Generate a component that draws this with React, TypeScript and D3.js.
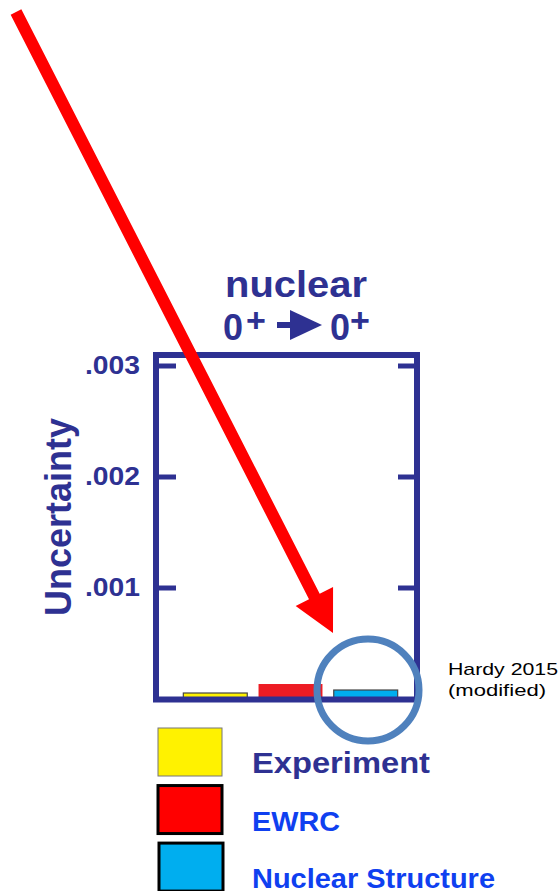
import React, { useEffect, useRef } from "react"
import * as d3 from "d3"

const categories = ["Experiment", "EWRC", "Nuclear Structure"]
const uncertainty = [0.000054, 0.000135, 0.000081]
const barColors = ["#FFF200", "#ED1C24", "#00AEEF"]
const legendColors = ["#FFF200", "#FF0000", "#00AEEF"]
const legendTextColors = ["#2E3192", "#0F40F0", "#0F40F0"]
const legendTextWidths = [178, 88, 243]
const yTicks = [0.001, 0.002, 0.003]
const yTickLabels = [".001", ".002", ".003"]

const W = 560
const H = 891
const NAVY = "#2E3192"
const FONT = "'Liberation Sans', Arial, sans-serif"

export default function App() {
  const svgRef = useRef<SVGSVGElement | null>(null)

  useEffect(() => {
    if (!svgRef.current) return
    const svg = d3.select(svgRef.current)
    svg.selectAll("*").remove()

    const frame = { left: 156, right: 417, top: 355, bottom: 699.5 }

    const x = d3.scaleBand<string>().domain(categories).range([157, 424]).paddingInner(0.15).paddingOuter(0.35)
    const y = d3.scaleLinear().domain([0, 0.003]).range([699, 366])

    // title
    svg
      .append("text")
      .attr("x", 225)
      .attr("y", 297)
      .attr("textLength", 142)
      .attr("lengthAdjust", "spacingAndGlyphs")
      .style("font-family", FONT)
      .style("font-weight", "bold")
      .style("font-size", "36px")
      .style("fill", NAVY)
      .text("nuclear")

    const line2 = svg.append("g").style("font-family", FONT).style("font-weight", "bold").style("fill", NAVY)
    line2.append("text").attr("x", 223).attr("y", 340).style("font-size", "36px").text("0")
    line2.append("text").attr("x", 246).attr("y", 332).style("font-size", "34px").text("+")
    line2.append("text").attr("x", 330).attr("y", 340).style("font-size", "36px").text("0")
    line2.append("text").attr("x", 350).attr("y", 332).style("font-size", "34px").text("+")
    line2.append("rect").attr("x", 277).attr("y", 322).attr("width", 16).attr("height", 6).attr("fill", NAVY)
    line2.append("path").attr("d", "M290,310L322,325L290,340Z").attr("fill", NAVY)

    // bars
    svg
      .append("g")
      .selectAll("rect")
      .data(categories)
      .join("rect")
      .attr("x", (d) => x(d)!)
      .attr("width", x.bandwidth())
      .attr("y", (d, i) => y(uncertainty[i]))
      .attr("height", (d, i) => y(0) - y(uncertainty[i]))
      .attr("fill", (d, i) => barColors[i])
      .attr("stroke", (d, i) => (i === 1 ? "none" : "#444"))
      .attr("stroke-width", 1.2)

    // frame
    svg
      .append("rect")
      .attr("x", frame.left)
      .attr("y", frame.top)
      .attr("width", frame.right - frame.left)
      .attr("height", frame.bottom - frame.top)
      .attr("fill", "none")
      .attr("stroke", NAVY)
      .attr("stroke-width", 6)

    // ticks
    const tickG = svg.append("g")
    tickG
      .selectAll("line.l")
      .data(yTicks)
      .join("line")
      .attr("class", "l")
      .attr("x1", frame.left)
      .attr("x2", 176)
      .attr("y1", (d) => y(d))
      .attr("y2", (d) => y(d))
      .attr("stroke", NAVY)
      .attr("stroke-width", 5)
    tickG
      .selectAll("line.r")
      .data(yTicks)
      .join("line")
      .attr("class", "r")
      .attr("x1", 398)
      .attr("x2", frame.right)
      .attr("y1", (d) => y(d))
      .attr("y2", (d) => y(d))
      .attr("stroke", NAVY)
      .attr("stroke-width", 5)
    tickG
      .selectAll("text")
      .data(yTicks)
      .join("text")
      .attr("x", 85)
      .attr("y", (d) => y(d) + 8)
      .attr("textLength", 55)
      .attr("lengthAdjust", "spacingAndGlyphs")
      .style("font-family", FONT)
      .style("font-weight", "bold")
      .style("font-size", "25px")
      .style("fill", NAVY)
      .text((d, i) => yTickLabels[i])

    // y label
    svg
      .append("text")
      .attr("transform", "translate(71,517) rotate(-90)")
      .attr("text-anchor", "middle")
      .attr("textLength", 198)
      .attr("lengthAdjust", "spacingAndGlyphs")
      .style("font-family", FONT)
      .style("font-weight", "bold")
      .style("font-size", "36px")
      .style("fill", NAVY)
      .text("Uncertainty")

    // source note
    const note = svg.append("g").style("font-family", FONT).style("font-size", "17px").style("fill", "#000")
    note
      .append("text")
      .attr("x", 448)
      .attr("y", 675)
      .attr("textLength", 110)
      .attr("lengthAdjust", "spacingAndGlyphs")
      .text("Hardy 2015")
    note
      .append("text")
      .attr("x", 448)
      .attr("y", 696)
      .attr("textLength", 98)
      .attr("lengthAdjust", "spacingAndGlyphs")
      .text("(modified)")

    // legend
    const ly = d3.scaleBand<string>().domain(categories).range([728, 892]).paddingInner(0.15).paddingOuter(0)
    const legend = svg.append("g")
    legend
      .selectAll("rect")
      .data(categories)
      .join("rect")
      .attr("x", (d, i) => (i === 2 ? 159 : 158))
      .attr("y", (d) => ly(d)!)
      .attr("width", 64)
      .attr("height", 48)
      .attr("fill", (d, i) => legendColors[i])
      .attr("stroke", (d, i) => (i === 0 ? "#777" : "#000"))
      .attr("stroke-width", (d, i) => (i === 0 ? 1 : 3))
    legend
      .selectAll("text")
      .data(categories)
      .join("text")
      .attr("x", 252)
      .attr("y", (d) => ly(d)! + 45)
      .attr("textLength", (d, i) => legendTextWidths[i])
      .attr("lengthAdjust", "spacingAndGlyphs")
      .style("font-family", FONT)
      .style("font-weight", "bold")
      .style("font-size", (d, i) => (i === 0 ? "29px" : "28px"))
      .style("fill", (d, i) => legendTextColors[i])
      .text((d) => d)

    // highlight circle
    svg
      .append("circle")
      .attr("cx", 368)
      .attr("cy", 690)
      .attr("r", 51)
      .attr("fill", "none")
      .attr("stroke", "#4F81BD")
      .attr("stroke-width", 7)

    // big red arrow
    const start: [number, number] = [16, 12]
    const tip: [number, number] = [333, 633]
    const dx = tip[0] - start[0]
    const dy = tip[1] - start[1]
    const len = Math.hypot(dx, dy)
    const ux = dx / len
    const uy = dy / len
    const px = -uy
    const py = ux
    const headLen = 41
    const headHalf = 21
    const shaftHalf = 6
    const bx = tip[0] - ux * headLen
    const by = tip[1] - uy * headLen
    const pts: [number, number][] = [
      [start[0] + px * shaftHalf, start[1] + py * shaftHalf],
      [bx + px * shaftHalf, by + py * shaftHalf],
      [bx + px * headHalf, by + py * headHalf],
      tip,
      [bx - px * headHalf, by - py * headHalf],
      [bx - px * shaftHalf, by - py * shaftHalf],
      [start[0] - px * shaftHalf, start[1] - py * shaftHalf],
    ]
    svg
      .append("path")
      .attr("d", d3.line()(pts) + "Z")
      .attr("fill", "#FF0000")
  }, [])

  return (
    <svg
      ref={svgRef}
      width={W}
      height={H}
      style={{ position: "absolute", left: 0, top: 0, background: "#fff" }}
    ></svg>
  )
}
